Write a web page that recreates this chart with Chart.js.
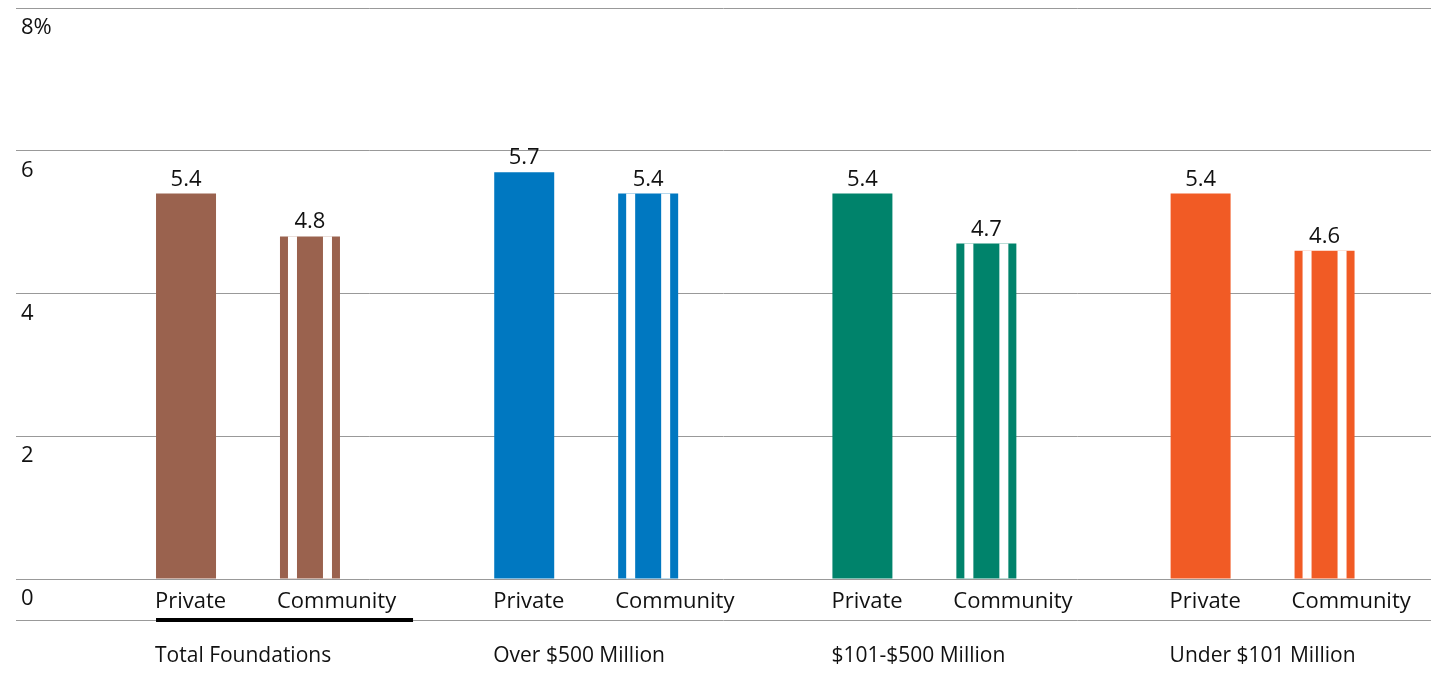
<!DOCTYPE html>
<html>
<head>
<meta charset="utf-8">
<script src="https://cdn.jsdelivr.net/npm/chart.js@4.4.1/dist/chart.umd.min.js"></script>
<style>
  html, body { margin: 0; padding: 0; background: #fff; }
  #wrap { width: 1431px; height: 673px; position: relative; }
</style>
</head>
<body>
<div id="wrap"><canvas id="payoutChart"></canvas></div>
<script>
// payout rates by foundation size
const groups = ['Total Foundations', 'Over $500 Million', '$101-$500 Million', 'Under $101 Million'];
const seriesNames = ['Private', 'Community'];
const privateRates = [5.4, 5.7, 5.4, 5.4];
const communityRates = [4.8, 5.4, 4.7, 4.6];
const yTicks = [0, 2, 4, 6, 8];

const groupColors = ['#9a624e', '#0078c1', '#00836b', '#f15b25'];
const FONT = '"Open Sans", sans-serif';
const TEXT = '#111';

// draws the tick numbers, value labels, stripes and the labels under the axis
const annotate = {
  id: 'annotate',
  afterDatasetsDraw(chart) {
    const ctx = chart.ctx;
    const area = chart.chartArea;
    const y = chart.scales.y;
    const pMeta = chart.getDatasetMeta(0);
    const cMeta = chart.getDatasetMeta(1);

    ctx.save();

    // white gaps in the community bars (8 | 9 | 26 | 9 | 8 of 60)
    ctx.fillStyle = '#fff';
    cMeta.data.forEach(bar => {
      const left = bar.x - bar.width / 2;
      const k = bar.width / 60;
      const top = bar.y;
      const h = bar.base - bar.y;
      ctx.fillRect(left + 8 * k, top, 9 * k, h);
      ctx.fillRect(left + 43 * k, top, 9 * k, h);
    });

    // y tick labels, below each grid line
    ctx.fillStyle = TEXT;
    ctx.font = '22px ' + FONT;
    ctx.textAlign = 'left';
    ctx.textBaseline = 'alphabetic';
    y.ticks.forEach(t => {
      const label = t.value === 8 ? '8%' : String(t.value);
      ctx.fillText(label, area.left + 5, y.getPixelForValue(t.value) + 26);
    });

    // values above bars
    ctx.font = '22px ' + FONT;
    ctx.textAlign = 'center';
    [[pMeta, privateRates], [cMeta, communityRates]].forEach(([meta, vals]) => {
      meta.data.forEach((bar, i) => {
        ctx.fillText(vals[i].toFixed(1), bar.x, bar.y - 8);
      });
    });

    // series names and group names
    ctx.textAlign = 'left';
    const base = area.bottom;
    pMeta.data.forEach((bar, i) => {
      ctx.font = '22px ' + FONT;
      ctx.fillText(seriesNames[0], bar.x - bar.width / 2 - 1, base + 29);
      ctx.font = '21px ' + FONT;
      ctx.fillText(groups[i], bar.x - bar.width / 2 - 1, base + 83);
    });
    ctx.font = '22px ' + FONT;
    cMeta.data.forEach(bar => {
      ctx.fillText(seriesNames[1], bar.x - bar.width / 2 - 3, base + 29);
    });

    // bottom rule and the black underline under the first group
    ctx.strokeStyle = '#999';
    ctx.lineWidth = 1;
    ctx.beginPath();
    ctx.moveTo(area.left, base + 41.5);
    ctx.lineTo(area.right, base + 41.5);
    ctx.stroke();

    const first = pMeta.data[0];
    ctx.fillStyle = '#000';
    ctx.fillRect(first.x - first.width / 2, base + 39, 257, 4);

    ctx.restore();
  }
};

new Chart(document.getElementById('payoutChart'), {
  type: 'bar',
  data: {
    datasets: [
      {
        label: seriesNames[0],
        data: privateRates.map((v, i) => ({ x: i, y: v })),
        backgroundColor: groupColors
      },
      {
        label: seriesNames[1],
        data: communityRates.map((v, i) => ({ x: i, y: v })),
        backgroundColor: groupColors
      }
    ]
  },
  options: {
    responsive: true,
    maintainAspectRatio: false,
    animation: false,
    categoryPercentage: 0.733,
    barPercentage: 0.484,
    layout: { padding: { left: 16, right: 0, top: 8, bottom: 94 } },
    plugins: {
      legend: { display: false },
      tooltip: { enabled: false }
    },
    scales: {
      x: {
        type: 'linear',
        min: -0.686,
        max: 3.498,
        offset: false,
        display: false,
        afterBuildTicks: s => { s.ticks = groups.map((g, i) => ({ value: i })); }
      },
      y: {
        min: 0,
        max: 8,
        afterBuildTicks: s => { s.ticks = yTicks.map(v => ({ value: v })); },
        border: { display: false },
        grid: { color: '#999', lineWidth: 1, drawTicks: false },
        ticks: { display: false }
      }
    }
  },
  plugins: [annotate]
});
</script>
</body>
</html>
